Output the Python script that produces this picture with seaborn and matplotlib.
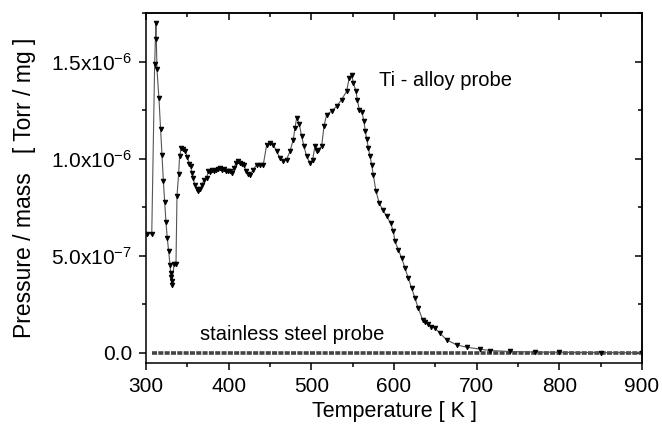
import matplotlib
matplotlib.use('Agg')
import matplotlib.pyplot as plt
from matplotlib.ticker import MultipleLocator
import seaborn as sns
import pandas as pd

# Ti-alloy probe (temperature in K, pressure/mass in 1e-6 Torr/mg)
ti_temp = [301.6, 307.0, 310.5, 312.0, 312.5, 313.3, 315.7, 317.7, 319.4, 321.0,
           322.6, 324.2, 325.8, 327.5, 329.0, 330.0, 330.6, 331.0, 331.2, 334.3,
           336.3, 337.5, 339.5, 340.7, 342.7, 345.0, 347.5, 350.0, 352.4, 354.0,
           355.6, 357.0, 359.0, 361.3, 363.3, 365.5, 367.7, 370.0, 373.4, 375.3,
           377.5, 379.8, 382.0, 384.8, 387.2, 389.5, 392.0, 394.5, 396.8, 399.2,
           401.6, 404.0, 406.4, 408.9, 411.3, 413.7, 416.0, 418.5, 421.0, 423.4,
           425.8, 429.8, 433.9, 437.9, 441.9, 446.0, 450.0, 454.0, 458.0, 462.0,
           466.0, 470.0, 474.2, 478.2, 480.2, 482.3, 485.4, 488.3, 491.1, 494.3,
           498.4, 501.6, 504.4, 506.5, 508.4, 512.5, 515.3, 518.5, 524.5, 530.6,
           536.6, 542.7, 545.8, 548.8, 550.8, 554.0, 555.6, 558.0, 561.3, 563.7,
           565.3, 567.0, 569.0, 571.0, 573.0, 575.0, 578.2, 582.2, 586.3, 591.1,
           596.0, 599.2, 601.2, 605.2, 609.3, 613.3, 617.3, 621.4, 625.4, 629.4,
           634.7, 638.0, 641.5, 645.0, 649.6, 655.6, 663.7, 675.8, 687.9, 704.0,
           716.0, 740.0, 770.0, 800.0, 850.0, 900.0]
ti_pres = [0.613, 0.613, 1.485, 1.700, 1.617, 1.460, 1.310, 1.155, 1.017, 0.887,
           0.775, 0.672, 0.589, 0.522, 0.454, 0.410, 0.393, 0.350, 0.370, 0.459,
           0.459, 0.806, 0.921, 1.012, 1.055, 1.050, 1.038, 1.008, 0.974, 0.960,
           0.926, 0.900, 0.866, 0.845, 0.835, 0.842, 0.866, 0.888, 0.900, 0.934,
           0.930, 0.943, 0.934, 0.943, 0.946, 0.952, 0.943, 0.946, 0.934, 0.938,
           0.938, 0.926, 0.952, 0.978, 0.986, 0.978, 0.974, 0.969, 0.934, 0.922,
           0.918, 0.943, 0.969, 0.969, 0.969, 1.072, 1.080, 1.072, 1.038, 1.003,
           0.986, 0.995, 1.038, 1.098, 1.158, 1.210, 1.180, 1.115, 1.064, 1.012,
           0.978, 0.995, 1.064, 1.040, 1.046, 1.064, 1.167, 1.227, 1.244, 1.270,
           1.304, 1.347, 1.416, 1.433, 1.390, 1.347, 1.304, 1.253, 1.239, 1.192,
           1.141, 1.101, 1.055, 1.012, 0.969, 0.915, 0.832, 0.771, 0.737, 0.703,
           0.668, 0.625, 0.574, 0.531, 0.488, 0.436, 0.385, 0.333, 0.281, 0.230,
           0.170, 0.160, 0.149, 0.135, 0.127, 0.101, 0.067, 0.041, 0.029, 0.019,
           0.012, 0.007, 0.004, 0.003, 0.001, 0.0005]

# stainless steel probe stays at ~0
ss_temp = [307, 318, 330, 350, 370, 390, 410, 430, 450, 470, 490, 510, 530, 550,
           570, 590, 610, 630, 650, 670, 690, 710, 730, 750, 770, 790, 810, 830,
           850, 870, 890, 900]
ss_pres = [0.0] * len(ss_temp)

x_ticks = [300, 400, 500, 600, 700, 800, 900]
y_ticks = [0.0, 5.0e-7, 1.0e-6, 1.5e-6]
y_tick_labels = ['0.0', '5.0x10$^{-7}$', '1.0x10$^{-6}$', '1.5x10$^{-6}$']

df_ti = pd.DataFrame({'T': ti_temp, 'P': [p * 1e-6 for p in ti_pres]})
df_ss = pd.DataFrame({'T': ss_temp, 'P': [p * 1e-6 for p in ss_pres]})

sns.set_style('ticks')
plt.rcParams['font.family'] = ['Liberation Sans', 'DejaVu Sans']
plt.rcParams['mathtext.default'] = 'regular'
plt.rcParams['axes.linewidth'] = 1.1
for key in ['text.color', 'axes.labelcolor', 'xtick.color', 'ytick.color', 'axes.edgecolor']:
    plt.rcParams[key] = 'black'

fig = plt.figure(figsize=(6.62, 4.25), dpi=100)
ax = fig.add_axes([0.2205, 0.146, 0.7493, 0.8234])

# stainless steel: dotted band on zero
sns.lineplot(x='T', y='P', data=df_ss, ax=ax, color='#444444', linewidth=2.6,
             dashes=False, estimator=None, sort=False)
ax.lines[-1].set_dashes([1.4, 0.35])

# Ti alloy: thin line with small down triangles
sns.lineplot(x='T', y='P', data=df_ti, ax=ax, color='#555555', linewidth=0.8,
             marker='v', markersize=3.2, markerfacecolor='black',
             markeredgecolor='black', estimator=None, sort=False)

ax.set_xlim(300, 900)
ax.set_ylim(-5.2e-8, 1.75e-6)
ax.set_xticks(x_ticks)
ax.set_yticks(y_ticks)
ax.set_yticklabels(y_tick_labels)
ax.xaxis.set_minor_locator(MultipleLocator(50))
ax.yaxis.set_minor_locator(MultipleLocator(2.5e-7))
ax.tick_params(which='major', direction='out', length=5, width=1.1, labelsize=15, pad=5)
ax.tick_params(which='minor', direction='out', length=3, width=1.1)

# mirrored ticks pointing inward on top and right
top = ax.secondary_xaxis('top')
top.set_xticks(x_ticks)
top.xaxis.set_minor_locator(MultipleLocator(50))
top.tick_params(which='major', direction='in', length=5, width=1.1, labeltop=False)
top.tick_params(which='minor', direction='in', length=3, width=1.1)
right = ax.secondary_yaxis('right')
right.set_yticks(y_ticks)
right.yaxis.set_minor_locator(MultipleLocator(2.5e-7))
right.tick_params(which='major', direction='in', length=5, width=1.1, labelright=False)
right.tick_params(which='minor', direction='in', length=3, width=1.1)

# labels
ax.set_xlabel('Temperature [ K ]', fontsize=15.5, labelpad=4)
ax.set_ylabel('Pressure / mass   [ Torr / mg ]', fontsize=16.5, labelpad=11)

ax.text(581.8, 1.403e-6, 'Ti - alloy probe', fontsize=14.5, va='center', ha='left')
ax.text(365.3, 0.93e-7, 'stainless steel probe', fontsize=14.5, va='center', ha='left')

plt.savefig('out.png', dpi=100)
